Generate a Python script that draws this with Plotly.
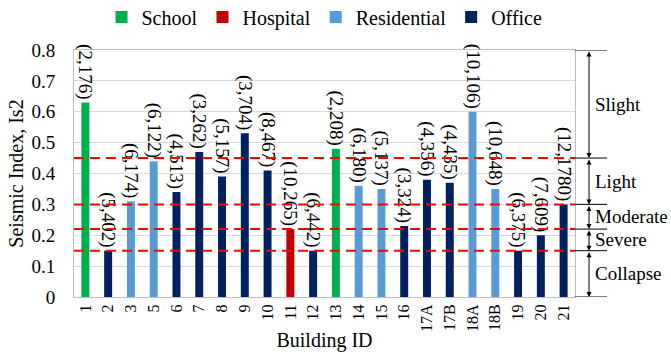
import plotly.graph_objects as go

# ---- data ----
building_ids = ["1", "2", "3", "5", "6", "7", "8", "9", "10", "11", "12", "13",
                "14", "15", "16", "17A", "17B", "18A", "18B", "19", "20", "21"]
building_type = ["School", "Office", "Residential", "Residential", "Office", "Office",
                 "Office", "Office", "Office", "Hospital", "Office", "School",
                 "Residential", "Residential", "Office", "Office", "Office",
                 "Residential", "Residential", "Office", "Office", "Office"]
seismic_index = [0.63, 0.15, 0.31, 0.44, 0.34, 0.47, 0.39, 0.53, 0.41, 0.22, 0.15, 0.48,
                 0.36, 0.35, 0.23, 0.38, 0.37, 0.60, 0.35, 0.15, 0.20, 0.30]
bar_labels = ["(2,176)", "(5,402)", "(6,174)", "(6,122)", "(4,513)", "(3,262)", "(5,157)",
              "(3,704)", "(8,467)", "(10,265)", "(6,442)", "(2,208)", "(6,180)", "(5,137)",
              "(3,324)", "(4,356)", "(4,435)", "(10,106)", "(10,648)", "(6,375)",
              "(7,609)", "(12,1780)"]
types = ["School", "Hospital", "Residential", "Office"]
type_colors = {"School": "#00B050", "Hospital": "#C00000",
               "Residential": "#5B9BD5", "Office": "#002060"}
thresholds = [0.45, 0.30, 0.22, 0.15]
zone_bounds = [0.8, 0.45, 0.30, 0.22, 0.15, 0.0]
zone_names = ["Slight", "Light", "Moderate", "Severe", "Collapse"]

FONT = "Liberation Serif"

fig = go.Figure()
for t in types:
    xs = [b for b, ty in zip(building_ids, building_type) if ty == t]
    ys = [v for v, ty in zip(seismic_index, building_type) if ty == t]
    tx = [l for l, ty in zip(bar_labels, building_type) if ty == t]
    fig.add_trace(go.Bar(
        x=xs, y=ys, name=t, text=tx, textposition="outside", textangle=90,
        textfont=dict(family=FONT, size=19, color="black"),
        constraintext="none", cliponaxis=False,
        marker=dict(color=type_colors[t], line=dict(width=0)), width=0.35,
    ))

# dashed threshold lines
for th in thresholds:
    fig.add_shape(type="line", xref="paper", yref="y", x0=0, x1=1, y0=th, y1=th,
                  line=dict(color="#FF0000", width=2, dash="10px,6px"), layer="above")

# right-side bracket lines
for zb in zone_bounds:
    fig.add_shape(type="line", xref="paper", yref="y", x0=1.0, x1=1.064, y0=zb, y1=zb,
                  line=dict(color="black", width=1))

# double arrows and zone labels
for i, name in enumerate(zone_names):
    top, bot = zone_bounds[i], zone_bounds[i + 1]
    fig.add_annotation(xref="paper", yref="y", x=1.028, y=bot, axref="pixel", ayref="y",
                       ax=0, ay=top, text="", showarrow=True, arrowside="end+start",
                       arrowhead=2, arrowsize=1, arrowwidth=1, arrowcolor="black",
                       standoff=0, startstandoff=0)
    fig.add_annotation(xref="paper", yref="y", x=1.036, y=(top + bot) / 2, text=name,
                       showarrow=False, xanchor="left", yanchor="middle",
                       font=dict(family=FONT, size=19, color="black"))

fig.update_layout(
    width=671, height=354, barmode="overlay",
    margin=dict(l=74, r=96, t=50, b=57, autoexpand=False),
    paper_bgcolor="white", plot_bgcolor="white",
    font=dict(family=FONT, size=19, color="black"),
    legend=dict(orientation="h", x=0.5, xanchor="center", y=1.134, yanchor="middle",
                font=dict(family=FONT, size=20), itemwidth=30, traceorder="normal"),
    showlegend=True,
)
fig.update_xaxes(type="category", categoryorder="array", categoryarray=building_ids,
                 tickangle=-90, tickfont=dict(family=FONT, size=16), automargin=False,
                 showline=True, linecolor="#BFBFBF", mirror=True, ticks="",
                 title=dict(text="Building ID", font=dict(family=FONT, size=20), standoff=2))
fig.update_yaxes(range=[0, 0.8], dtick=0.1, showgrid=True, automargin=False,
                 gridcolor="#D9D9D9", showline=True, linecolor="#BFBFBF", mirror=True,
                 tickfont=dict(family=FONT, size=19), ticklabelstandoff=14, zeroline=False,
                 title=dict(text="Seismic Index, Is2", font=dict(family=FONT, size=20), standoff=2))

fig.write_html("out.html")
